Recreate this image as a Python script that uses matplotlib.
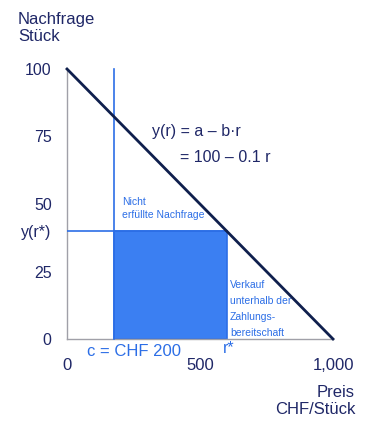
import matplotlib.pyplot as plt
from matplotlib.patches import Rectangle

plt.rcParams["font.family"] = ["Liberation Sans", "DejaVu Sans"]

# demand curve y(r) = 100 - 0.1 r
price = [0, 1000]
quantity = [100, 0]
c_cost = 175        # drawn position of c = CHF 200
r_star = 600
y_star = 40

ytick_vals = [0, 25, 40, 50, 75, 100]
ytick_lbls = ["0", "25", "y(r*)", "50", "75", "100"]
xtick_vals = [0, 500, 1000]
xtick_lbls = ["0", "500", "1,000"]

navy = "#1f2767"
line_navy = "#0f1f4d"
blue = "#2c6ee6"
fill = "#3b7ff2"

fig = plt.figure(figsize=(3.69, 4.23), dpi=100)
ax = fig.add_axes([67 / 369, 84 / 423, 266 / 369, 270 / 423])
ax.set_xlim(0, 1000)
ax.set_ylim(0, 100)

# revenue rectangle
ax.add_patch(Rectangle((c_cost, 0), r_star - c_cost, y_star,
                       facecolor=fill, edgecolor=blue, lw=1.2, zorder=2))
ax.plot([c_cost, c_cost], [0, 100], color=blue, lw=1.2, zorder=3, clip_on=False)
ax.plot([0, r_star], [y_star, y_star], color=blue, lw=1.2, zorder=3)

# demand line
ax.plot(price, quantity, color=line_navy, lw=2, zorder=4, clip_on=False)

for s in ["top", "right"]:
    ax.spines[s].set_visible(False)
for s in ["left", "bottom"]:
    ax.spines[s].set_color("#a0a0a8")
    ax.spines[s].set_linewidth(1)

ax.set_yticks(ytick_vals)
ax.set_yticklabels(ytick_lbls)
ax.set_xticks(xtick_vals)
ax.set_xticklabels(xtick_lbls)
ax.tick_params(axis="y", length=0, pad=11, labelsize=11.5, labelcolor=navy)
ax.tick_params(axis="x", length=0, pad=14, labelsize=12, labelcolor=navy)
ax.set_xticks([500], minor=True)
ax.tick_params(axis="x", which="minor", direction="in", length=4,
               color=line_navy, width=1)

# annotations
ax.text(320, 77, "y(r) = a – b·r", fontsize=11.5, color=navy, va="center")
ax.text(425, 67.4, "= 100 – 0.1 r", fontsize=11.5, color=navy, va="center")
ax.text(207, 52.5, "Nicht\nerfüllte Nachfrage", fontsize=7.5, color=blue,
        va="top", linespacing=1.35)
ax.text(613, 21.8, "Verkauf\nunterhalb der\nZahlungs-\nbereitschaft",
        fontsize=7.5, color=blue, va="top", linespacing=1.75)
ax.text(75, -4.8, "c = CHF 200", fontsize=12, color=blue, va="center",
        clip_on=False)
ax.text(608, -3.5, "r*", fontsize=11.5, color=blue, va="center", ha="center",
        clip_on=False)

fig.text(18 / 369, 1 - 12 / 423, "Nachfrage\nStück", fontsize=12, color=navy,
         va="top", ha="left", linespacing=1.15)
fig.text(355 / 369, 1 - 385 / 423, "Preis\nCHF/Stück", fontsize=12, color=navy,
         va="top", ha="right", multialignment="right", linespacing=1.15)

fig.savefig("out.png", dpi=100)
